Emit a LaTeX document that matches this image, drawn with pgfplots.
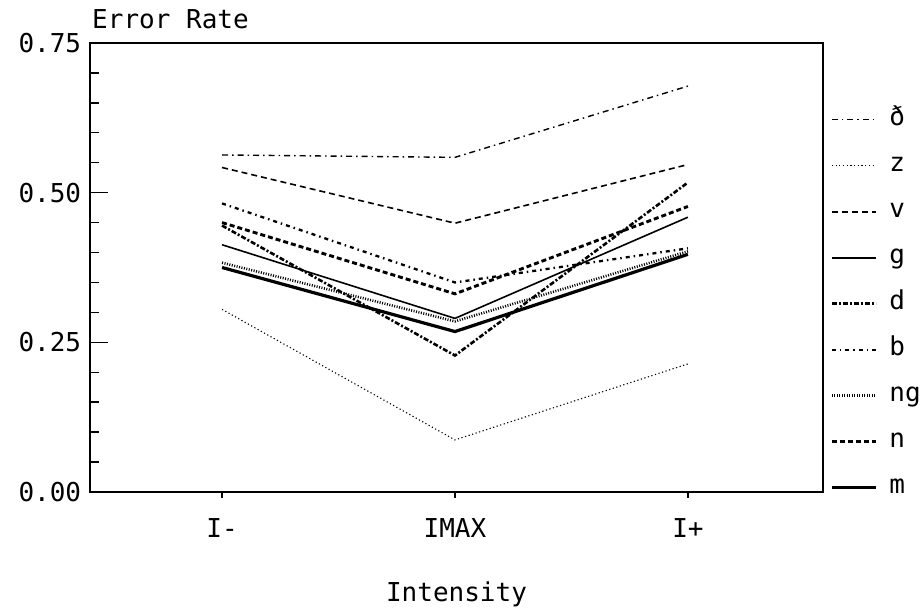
\documentclass[border=0pt]{standalone}
\usepackage{fontspec}
\setmainfont{DejaVu Sans Mono}
\usepackage{pgfplots}
\pgfplotsset{compat=1.18}
\begin{document}
\fontsize{26}{31}\selectfont
\begin{tikzpicture}
\begin{axis}[
  name=ax,
  scale only axis, width=733pt, height=449pt,
  xmin=-0.567, xmax=2.58, ymin=0, ymax=0.75,
  xtick={0,1,2}, xticklabels={I-,IMAX,I+},
  ytick={0,0.25,0.5,0.75}, minor y tick num=4,
  /pgf/number format/assume math mode=true,
  yticklabel style={/pgf/number format/fixed, /pgf/number format/fixed zerofill, /pgf/number format/precision=2},
  tick label style={font=\fontsize{26}{31}\selectfont},
  ytick pos=left, xtick pos=bottom,
  ytick align=inside, xtick align=outside,
  major tick length=18pt, minor tick length=9pt,
  xtick style={dash pattern=on 0pt off 12pt on 7pt off 40pt},
  axis line style={line width=1.6pt},
  tick style={black, line width=1.4pt},
  every axis y label/.style={at={(rel axis cs:0,1)}, anchor=south west, inner sep=2pt, yshift=12pt, font=\fontsize{26}{31}\selectfont},
  ylabel={Error Rate},
  every axis x label/.style={at={(rel axis cs:0.5,0)}, anchor=center, yshift=-102pt, font=\fontsize{26}{31}\selectfont},
  xlabel={Intensity},
  legend style={at={(rel axis cs:1,1)}, anchor=north west, xshift=4pt, yshift=-62pt,
    draw=none, fill=none, font=\fontsize{26}{31}\selectfont, row sep=21pt,
    nodes={text height=16pt, text depth=5pt, inner sep=2pt}},
  legend cell align=left,
  legend image code/.code={\draw[#1] (0pt,0pt) -- (44pt,0pt); \path (54pt,0pt);},
]
\addplot[black, line width=1.4pt, dash pattern=on 6pt off 4pt on 1.5pt off 4pt] coordinates {(0,0.563) (1,0.559) (2,0.678)};
\addlegendentry{ð}
\addplot[black, line width=1.1pt, dash pattern=on 1.2pt off 2.5pt] coordinates {(0,0.305) (1,0.087) (2,0.214)};
\addlegendentry{z}
\addplot[black, line width=1.6pt, dash pattern=on 6pt off 4pt] coordinates {(0,0.542) (1,0.449) (2,0.547)};
\addlegendentry{v}
\addplot[black, line width=1.6pt] coordinates {(0,0.413) (1,0.290) (2,0.459)};
\addlegendentry{g}
\addplot[black, line width=2.6pt, dash pattern=on 5pt off 2pt on 2pt off 2pt] coordinates {(0,0.445) (1,0.228) (2,0.517)};
\addlegendentry{d}
\addplot[black, line width=2.3pt, dash pattern=on 4pt off 4pt on 1.5pt off 4pt] coordinates {(0,0.482) (1,0.350) (2,0.407)};
\addlegendentry{b}
\addplot[black, line width=2.6pt, dash pattern=on 1pt off 1.5pt] coordinates {(0,0.383) (1,0.285) (2,0.402)};
\addlegendentry{ng}
\addplot[black, line width=2.9pt, dash pattern=on 5pt off 3pt] coordinates {(0,0.450) (1,0.331) (2,0.477)};
\addlegendentry{n}
\addplot[black, line width=3.2pt] coordinates {(0,0.375) (1,0.268) (2,0.397)};
\addlegendentry{m}
\end{axis}
\pgfresetboundingbox
\useasboundingbox ([xshift=-90pt,yshift=-120pt]ax.south west) rectangle ([xshift=100pt,yshift=43pt]ax.north east);
\end{tikzpicture}
\end{document}
